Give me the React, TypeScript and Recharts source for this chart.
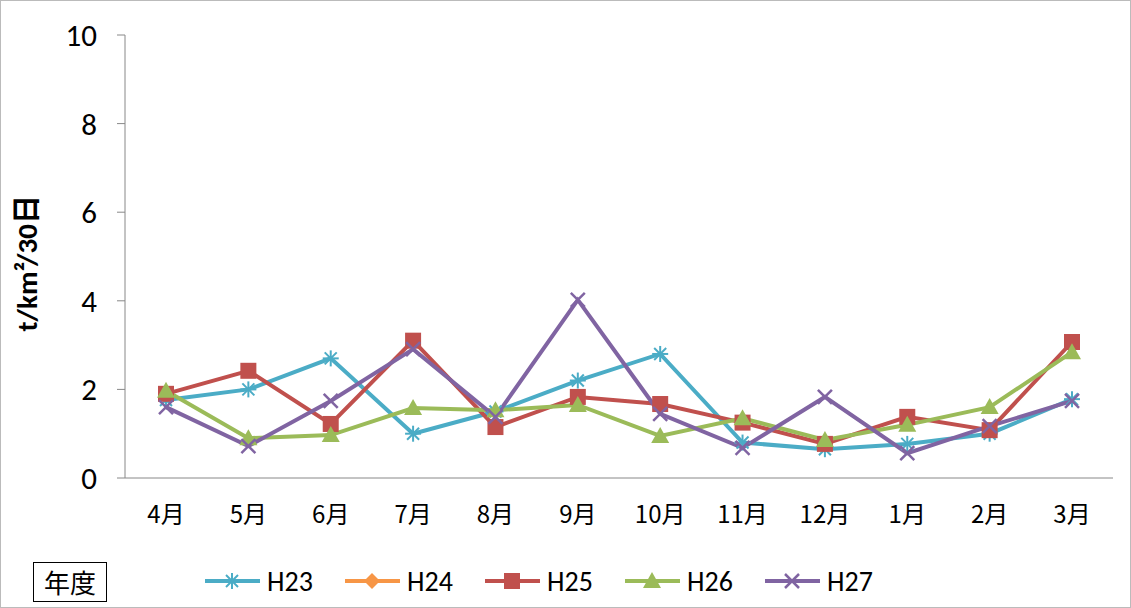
import React from 'react';
import { LineChart, Line, XAxis, YAxis } from 'recharts';

const months = ['4月','5月','6月','7月','8月','9月','10月','11月','12月','1月','2月','3月'];
const h23 = [1.76,2.0,2.7,1.0,1.5,2.2,2.8,0.8,0.65,0.77,1.0,1.78];
const h24: (number|null)[] = [null,null,null,null,null,null,null,null,null,null,null,null];
const h25 = [1.9,2.42,1.22,3.1,1.15,1.83,1.67,1.25,0.77,1.38,1.08,3.07];
const h26 = [1.97,0.9,0.97,1.58,1.53,1.65,0.95,1.35,0.86,1.2,1.6,2.84];
const h27 = [1.6,0.72,1.74,2.91,1.38,4.02,1.45,0.68,1.83,0.56,1.17,1.74];
const yTicks = [0,2,4,6,8,10];

const data = months.map((m,i)=>({m,h23:h23[i],h24:h24[i],h25:h25[i],h26:h26[i],h27:h27[i]}));

const C = {h23:'#4bacc6',h24:'#f79646',h25:'#c0504d',h26:'#9bbb59',h27:'#8064a2'};

const Marker = ({kind,cx,cy,color}:{kind:string;cx:number;cy:number;color:string}) => {
  const s = 8;
  if (kind==='star') return <g stroke={color} strokeWidth={2}>
    <line x1={cx-s} y1={cy} x2={cx+s} y2={cy}/><line x1={cx} y1={cy-s} x2={cx} y2={cy+s}/>
    <line x1={cx-6} y1={cy-6} x2={cx+6} y2={cy+6}/><line x1={cx-6} y1={cy+6} x2={cx+6} y2={cy-6}/></g>;
  if (kind==='x') return <g stroke={color} strokeWidth={2.5}>
    <line x1={cx-7} y1={cy-7} x2={cx+7} y2={cy+7}/><line x1={cx-7} y1={cy+7} x2={cx+7} y2={cy-7}/></g>;
  if (kind==='square') return <rect x={cx-8} y={cy-8} width={16} height={16} fill={color}/>;
  if (kind==='tri') return <polygon points={`${cx},${cy-9} ${cx+9},${cy+7} ${cx-9},${cy+7}`} fill={color}/>;
  return <polygon points={`${cx},${cy-8} ${cx+8},${cy} ${cx},${cy+8} ${cx-8},${cy}`} fill={color}/>;
};

const dot = (kind:string,color:string) => (p:any) => {
  if (p.value==null || p.cx==null) return <g key={p.index}/>;
  return <g key={p.index}><Marker kind={kind} cx={p.cx} cy={p.cy} color={color}/></g>;
};

const series = [
  {k:'h23',n:'H23',m:'star'},{k:'h24',n:'H24',m:'diamond'},{k:'h25',n:'H25',m:'square'},
  {k:'h26',n:'H26',m:'tri'},{k:'h27',n:'H27',m:'x'},
];
const legendX = [205,345,485,625,765];

export default function App() {
  return (
    <div style={{position:'absolute',left:0,top:0,width:1131,height:608,fontFamily:'Calibri, Carlito, "Liberation Sans", "Noto Sans CJK JP", sans-serif',background:'#fff'}}>
      <div style={{position:'absolute',left:0,top:0,width:1129,height:606,border:'1px solid #bbb'}}/>
      <LineChart width={1131} height={608} data={data} margin={{top:35,right:18,left:0,bottom:70}}>
        <XAxis dataKey="m" padding={{left:41,right:41}} tickLine={false} axisLine={{stroke:'#888'}} tick={{fontSize:24,fill:'#000',fontFamily:'"Noto Sans CJK JP", sans-serif'}} dy={20} height={60} interval={0}/>
        <YAxis width={125} domain={[0,10]} ticks={yTicks} axisLine={{stroke:'#888'}} tickLine={{stroke:'#888'}} tickSize={8} tick={{fontSize:31,fill:'#000'}} dx={-18}
          label={{value:'t/km²/30日',angle:-90,position:'insideLeft',dx:22,dy:75,style:{fontSize:29,fontWeight:'bold',fill:'#000'}}}/>
        {series.map(s=>(
          <Line key={s.k} dataKey={s.k} stroke={(C as any)[s.k]} strokeWidth={4} isAnimationActive={false} dot={dot(s.m,(C as any)[s.k])} activeDot={false}/>
        ))}
      </LineChart>
      <div style={{position:'absolute',left:33,top:562,width:72,height:38,border:'1.5px solid #000',fontSize:26,lineHeight:'38px',textAlign:'center',fontFamily:'"Noto Sans CJK JP", sans-serif'}}>年度</div>
      <svg style={{position:'absolute',left:0,top:560}} width={1131} height={45}>
        {series.map((s,i)=>(
          <g key={s.k}>
            <line x1={legendX[i]} y1={21} x2={legendX[i]+55} y2={21} stroke={(C as any)[s.k]} strokeWidth={4}/>
            <Marker kind={s.m} cx={legendX[i]+27} cy={21} color={(C as any)[s.k]}/>
            <text x={legendX[i]+62} y={31} fontSize={28} fill="#000">{s.n}</text>
          </g>
        ))}
      </svg>
    </div>
  );
}
